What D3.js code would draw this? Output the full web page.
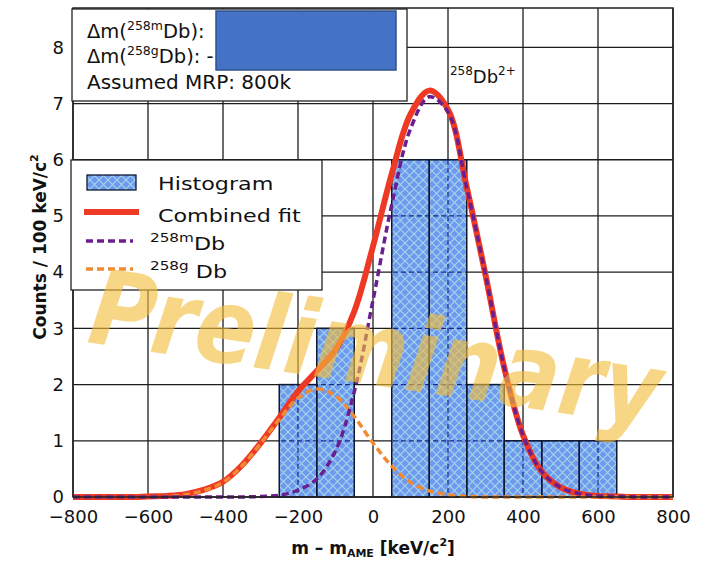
<!DOCTYPE html>
<html>
<head>
<meta charset="utf-8">
<script src="https://cdn.jsdelivr.net/npm/d3@7"></script>
<style>
  body { margin: 0; background: #fff; }
  svg { display: block; }
  text { font-family: "DejaVu Sans", sans-serif; fill: #111; }
</style>
</head>
<body>
<svg id="chart" width="716" height="563"></svg>
<script>
// ---- data ----
const xTicks = [-800, -600, -400, -200, 0, 200, 400, 600, 800];
const yTicks = [0, 1, 2, 3, 4, 5, 6, 7, 8];

// histogram: 100 keV/c^2 bins
const binEdges  = [-250, -150, -50, 50, 150, 250, 350, 450, 550, 650];
const binCounts = [2, 3, 0, 6, 6, 2, 1, 1, 1];

// fitted curves sampled every 50 keV/c^2
const fitX = [-800, -750, -700, -650, -600, -550, -500, -450, -400, -350, -300, -250, -200, -150, -100, -50,
              0, 50, 100, 150, 200, 250, 300, 350, 400, 450, 500, 550, 600, 650, 700, 750, 800];
const fitCombined = [0, 0, 0, 0, 0.01, 0.02, 0.05, 0.13, 0.27, 0.56, 0.96, 1.41, 1.88, 2.24, 2.62, 3.30,
                     4.46, 5.75, 6.81, 7.23, 6.89, 5.51, 3.95, 2.30, 1.10, 0.45, 0.17, 0.06, 0.02, 0.01, 0, 0, 0];
const fitMeta = [0, 0, 0, 0, 0, 0, 0, 0, 0, 0, 0.01, 0.03, 0.12, 0.32, 0.82, 1.87,
                 3.50, 5.20, 6.55, 7.12, 6.85, 5.50, 3.95, 2.30, 1.10, 0.45, 0.17, 0.06, 0.02, 0.01, 0, 0, 0];
const fitGround = [0, 0, 0, 0, 0.005, 0.01, 0.04, 0.12, 0.26, 0.55, 0.95, 1.38, 1.76, 1.92, 1.80, 1.43,
                   0.96, 0.55, 0.26, 0.11, 0.04, 0.01, 0, 0, 0, 0, 0, 0, 0, 0, 0, 0, 0];

const infoMRP = "Assumed MRP: 800k";
const watermark = "Preliminary";

// ---- layout ----
const svg = d3.select("#chart");
const plot = { left: 73, right: 673, top: 8, bottom: 497 };
const x = d3.scaleLinear().domain([-800, 800]).range([plot.left, plot.right]);
const y = d3.scaleLinear().domain([0, 8.7]).range([plot.bottom, plot.top]);

const C = {
  grid: "#1c1c1c",
  bar: "#6e99ef",
  hatch: "#a3d5e8",
  fit: "#ee3a25",
  meta: "#6b1f8e",
  ground: "#f08a33",
  mark: "#f3bd3c"
};

const defs = svg.append("defs");
const pat = defs.append("pattern").attr("id", "xhatch")
  .attr("patternUnits", "userSpaceOnUse").attr("width", 9).attr("height", 9);
pat.append("rect").attr("width", 9).attr("height", 9).attr("fill", C.bar);
pat.append("path").attr("d", "M0,0L9,9M9,0L0,9")
  .attr("stroke", C.hatch).attr("stroke-width", 1.2).attr("fill", "none");

const bins = binCounts.map((c, i) => ({ x0: binEdges[i], x1: binEdges[i + 1], n: c })).filter(d => d.n > 0);

const clip = defs.append("clipPath").attr("id", "barclip");
clip.selectAll("rect").data(bins).join("rect")
  .attr("x", d => x(d.x0)).attr("y", d => y(d.n))
  .attr("width", d => x(d.x1) - x(d.x0)).attr("height", d => y(0) - y(d.n));

// ---- grid ----
const gridV = svg.append("g");
gridV.selectAll("line").data(xTicks).join("line")
  .attr("x1", d => x(d)).attr("x2", d => x(d))
  .attr("y1", plot.top).attr("y2", plot.bottom)
  .attr("stroke", C.grid).attr("stroke-width", 1.3);
const gridH = svg.append("g");
gridH.selectAll("line").data(yTicks).join("line")
  .attr("x1", plot.left).attr("x2", plot.right)
  .attr("y1", d => y(d)).attr("y2", d => y(d))
  .attr("stroke", C.grid).attr("stroke-width", 1.3);

// ---- histogram ----
svg.append("g").selectAll("rect").data(bins).join("rect")
  .attr("x", d => x(d.x0)).attr("y", d => y(d.n))
  .attr("width", d => x(d.x1) - x(d.x0)).attr("height", d => y(0) - y(d.n))
  .attr("fill", "url(#xhatch)");

// grid seen through the bars
const inner = svg.append("g").attr("clip-path", "url(#barclip)");
inner.selectAll("line.v").data(xTicks).join("line").attr("class", "v")
  .attr("x1", d => x(d)).attr("x2", d => x(d))
  .attr("y1", plot.top).attr("y2", plot.bottom)
  .attr("stroke", "#1b2a86").attr("stroke-width", 1.2).attr("stroke-dasharray", "5,3");
inner.selectAll("line.h").data(yTicks).join("line").attr("class", "h")
  .attr("x1", plot.left).attr("x2", plot.right)
  .attr("y1", d => y(d)).attr("y2", d => y(d))
  .attr("stroke", "#1b2a86").attr("stroke-width", 1.2).attr("stroke-dasharray", "5,3");

svg.append("g").selectAll("rect").data(bins).join("rect")
  .attr("x", d => x(d.x0)).attr("y", d => y(d.n))
  .attr("width", d => x(d.x1) - x(d.x0)).attr("height", d => y(0) - y(d.n))
  .attr("fill", "none").attr("stroke", "#101830").attr("stroke-width", 1.5);

// ---- fit curves ----
const line = d3.line().x(d => x(d[0])).y(d => y(d[1])).curve(d3.curveCatmullRom.alpha(0.5));
const series = arr => fitX.map((v, i) => [v, arr[i]]);

svg.append("path").datum(series(fitCombined)).attr("d", line)
  .attr("fill", "none").attr("stroke", C.fit).attr("stroke-width", 6)
  .attr("stroke-linejoin", "round");
svg.append("path").datum(series(fitGround)).attr("d", line)
  .attr("fill", "none").attr("stroke", C.ground).attr("stroke-width", 3.5)
  .attr("stroke-dasharray", "7,4");
svg.append("path").datum(series(fitMeta)).attr("d", line)
  .attr("fill", "none").attr("stroke", C.meta).attr("stroke-width", 3.5)
  .attr("stroke-dasharray", "7,4");

// ---- frame and axes ----
svg.append("rect").attr("x", plot.left).attr("y", plot.top)
  .attr("width", plot.right - plot.left).attr("height", plot.bottom - plot.top)
  .attr("fill", "none").attr("stroke", "#222").attr("stroke-width", 1.5);

const xAxis = svg.append("g").attr("transform", `translate(0,${plot.bottom})`)
  .call(d3.axisBottom(x).tickValues(xTicks).tickSize(0).tickPadding(13));
const yAxis = svg.append("g").attr("transform", `translate(${plot.left},0)`)
  .call(d3.axisLeft(y).tickValues(yTicks).tickSize(0).tickPadding(9).tickFormat(d3.format("d")));
[xAxis, yAxis].forEach(a => {
  a.select(".domain").remove();
  a.selectAll("text").attr("font-size", 18).attr("fill", "#111")
    .style("font-family", "'DejaVu Sans', sans-serif");
});

const yl = svg.append("text").attr("transform", "translate(46,247) rotate(-90)")
  .attr("text-anchor", "middle").attr("font-size", 17).attr("font-weight", "bold");
yl.append("tspan").text("Counts / 100 keV/c");
yl.append("tspan").attr("font-size", 11).attr("dy", -8).text("2");

const xl = svg.append("text").attr("x", 373).attr("y", 554)
  .attr("text-anchor", "middle").attr("font-size", 17).attr("font-weight", "bold");
xl.append("tspan").text("m – m");
xl.append("tspan").attr("font-size", 11).attr("dy", 3).text("AME");
xl.append("tspan").attr("dy", -3).text(" [keV/c");
xl.append("tspan").attr("font-size", 11).attr("dy", -8).text("2");
xl.append("tspan").attr("dy", 8).text("]");

// ---- peak label ----
const pk = svg.append("text").attr("x", x(205)).attr("y", 83).attr("font-size", 18);
pk.append("tspan").attr("font-size", 12).attr("dy", -8).text("258");
pk.append("tspan").attr("dy", 8).text("Db");
pk.append("tspan").attr("font-size", 12).attr("dy", -8).text("2+");

// ---- info box ----
svg.append("rect").attr("x", 72).attr("y", 9).attr("width", 335).attr("height", 92)
  .attr("fill", "#fff").attr("stroke", "#222").attr("stroke-width", 1.3);
const infoRows = [
  { pre: "Δm(", sup: "258m", post: "Db): ", y: 38 },
  { pre: "Δm(", sup: "258g", post: "Db): -", y: 63 }
];
infoRows.forEach(r => {
  const t = svg.append("text").attr("x", 87).attr("y", r.y).attr("font-size", 19.5);
  t.append("tspan").text(r.pre);
  t.append("tspan").attr("font-size", 12.5).attr("dy", -8).text(r.sup);
  t.append("tspan").attr("dy", 8).text(r.post);
});
svg.append("text").attr("x", 87).attr("y", 89).attr("font-size", 20).text(infoMRP);
svg.append("rect").attr("x", 216).attr("y", 11).attr("width", 180).attr("height", 59)
  .attr("fill", "#4472c4").attr("stroke", "#2f528f").attr("stroke-width", 1.5);

// ---- legend ----
const lg = svg.append("g");
lg.append("rect").attr("x", 71).attr("y", 160).attr("width", 251).attr("height", 130)
  .attr("fill", "#fff").attr("stroke", "#222").attr("stroke-width", 1.3);
lg.append("rect").attr("x", 87).attr("y", 175).attr("width", 49).attr("height", 15)
  .attr("fill", "url(#xhatch)").attr("stroke", "#101830").attr("stroke-width", 1.3);
lg.append("line").attr("x1", 84).attr("x2", 139).attr("y1", 212).attr("y2", 212)
  .attr("stroke", C.fit).attr("stroke-width", 6);
lg.append("line").attr("x1", 86).attr("x2", 133).attr("y1", 241).attr("y2", 241)
  .attr("stroke", C.meta).attr("stroke-width", 3.5).attr("stroke-dasharray", "7,4");
lg.append("line").attr("x1", 86).attr("x2", 133).attr("y1", 269).attr("y2", 269)
  .attr("stroke", C.ground).attr("stroke-width", 3.5).attr("stroke-dasharray", "7,4");

function legendText(xp, yp, parts) {
  const t = lg.append("text").attr("transform", `translate(${xp},${yp}) scale(1.27,1)`)
    .attr("font-size", 17.5);
  parts.forEach(p => {
    const s = t.append("tspan").text(p.t);
    if (p.sup) s.attr("font-size", 12).attr("dy", -8);
    if (p.down) s.attr("dy", 8);
  });
}
legendText(158, 190, [{ t: "Histogram" }]);
legendText(158, 222, [{ t: "Combined fit" }]);
legendText(150, 250, [{ t: "258m", sup: true }, { t: "Db", down: true }]);
legendText(150, 278, [{ t: "258g", sup: true }, { t: " Db", down: true }]);

// ---- watermark ----
svg.append("text").attr("transform", "translate(86,342) rotate(8.5)")
  .attr("font-size", 104).attr("font-weight", "bold").attr("font-style", "italic")
  .attr("textLength", 576).attr("lengthAdjust", "spacingAndGlyphs")
  .style("fill", C.mark).attr("opacity", 0.62)
  .text(watermark);
</script>
</body>
</html>
